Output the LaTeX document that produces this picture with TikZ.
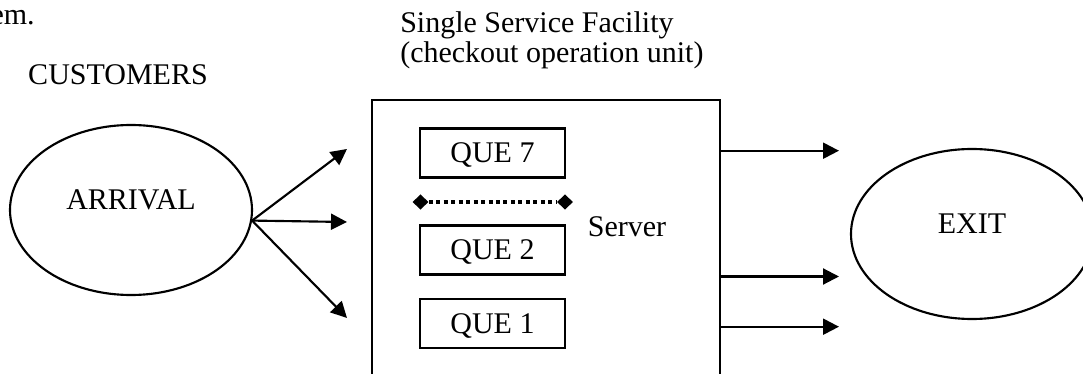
\documentclass[tikz,border=0pt]{standalone}
\usepackage{fontspec}
\setmainfont{Liberation Serif}
\usetikzlibrary{shapes.geometric,arrows.meta}
\begin{document}
\begin{tikzpicture}[x=0.75pt,y=-0.75pt,
  font=\fontsize{22.5pt}{22.5pt}\selectfont,
  txt/.style={inner sep=0pt},
  oval/.style={draw,ellipse,line width=1.6pt,minimum width=181.5pt,
    minimum height=127.5pt,inner sep=0pt,text height=15pt,text depth=15pt},
  quebox/.style={draw,rectangle,line width=1.6pt,minimum width=108.75pt,
    minimum height=36.75pt,inner sep=0pt,text height=15pt,text depth=0pt},
  facilitybox/.style={draw,rectangle,line width=2.2pt,minimum width=261pt,
    minimum height=240pt,inner sep=0pt},
  endmark/.style={diamond,fill=black,draw=none,minimum width=12pt,
    minimum height=11.5pt,inner sep=0pt},
  dotline/.style={line width=3pt,dash pattern=on 3pt off 2.6pt},
  flow/.style={line width=1.6pt,-{Triangle[length=12pt,width=12pt]}}
]
\clip (0,0) rectangle (1083,374);

% headings
\node[txt,anchor=base east] (tail) at (35,25) {em.};
\node[txt,anchor=base west] (title1) at (400,33) {Single Service Facility};
\node[txt,anchor=base west] (title2) at (400,63) {(checkout operation unit)};
\node[txt,anchor=base] (customers) at (118,85) {CUSTOMERS};

% arrival and exit
\node[oval] (arrival) at (131,210) {ARRIVAL};
\node[oval] (exit) at (972,234) {EXIT};

% service facility with its queues
\node[facilitybox] (facility) at (546,260) {};
\node[quebox] (que7) at (492.5,153) {QUE 7};
\node[quebox] (que2) at (492.5,250) {QUE 2};
\node[quebox] (que1) at (492.5,323.3) {QUE 1};
\node[endmark] (dl) at (420.5,202) {};
\node[endmark] (dr) at (565,202) {};
\draw[dotline] (dl) -- (dr);
\node[txt,anchor=base] (server) at (627,237) {Server};

% incoming customers
\coordinate (a1) at (347,149);
\coordinate (a2) at (347,222);
\coordinate (a3) at (347,318);
\draw[flow] (arrival.-5.7) -- (a1);
\draw[flow] (arrival.-5.7) -- (a2);
\draw[flow] (arrival.-5.7) -- (a3);

% departing customers
\coordinate (e1) at (839,150.7);
\coordinate (e2) at (839,276.5);
\coordinate (e3) at (839,326.7);
\draw[flow] (facility.east |- e1) -- (e1);
\draw[flow] (facility.east |- e2) -- (e2);
\draw[flow] (facility.east |- e3) -- (e3);
\end{tikzpicture}
\end{document}
